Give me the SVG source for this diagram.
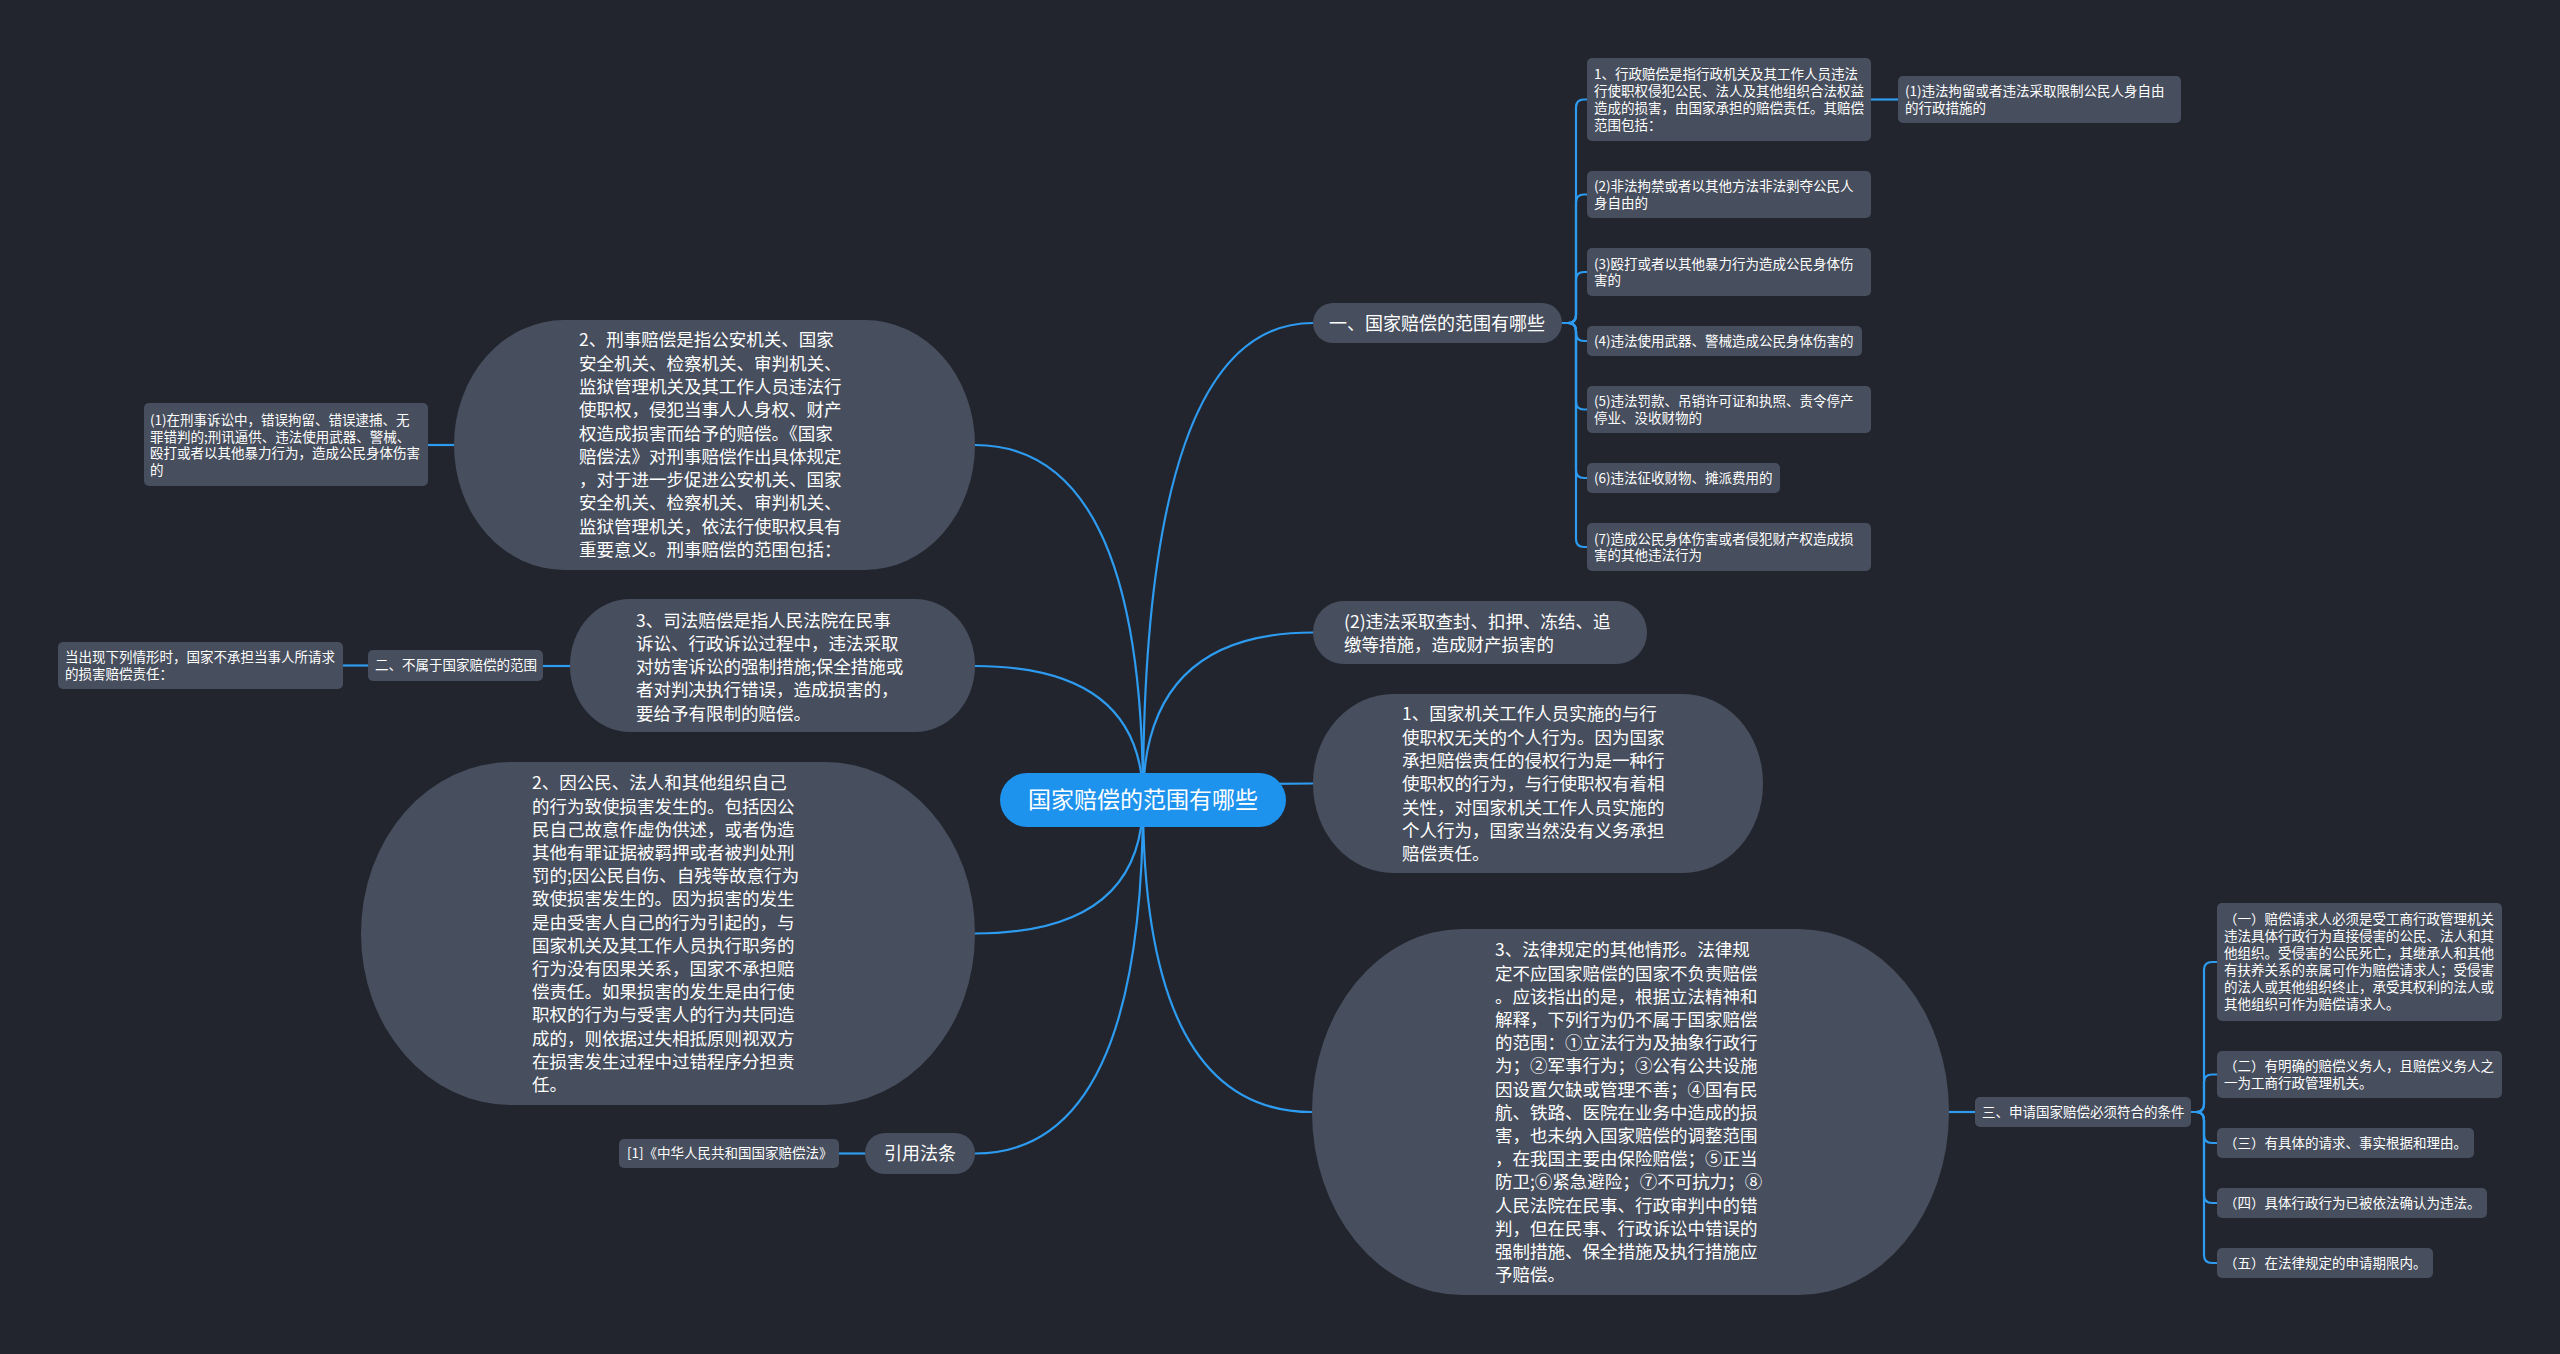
<svg xmlns="http://www.w3.org/2000/svg" width="2560" height="1354" viewBox="0 0 2560 1354">
<style>
.bg{fill:#22252d}
.n{fill:#474e5d}
.c{fill:#1e93ee}
.t{font-family:"Noto Sans CJK SC","Noto Sans",sans-serif;fill:#ffffff}
.s{font-size:13.5px}
.m{font-size:17.5px}
.l{font-size:18px}
.x{font-size:23px}
.e{fill:none;stroke:#2d9bf0;stroke-width:2.2}
</style>
<rect class="bg" x="0" y="0" width="2560" height="1354"/>
<g id="connectors">
<path class="e" d="M1143 800 Q1143 323 1313 323"/>
<path class="e" d="M1143 800 Q1143 632.5 1313 632.5"/>
<path class="e" d="M1143 800 Q1143 783.5 1313 783.5"/>
<path class="e" d="M1143 800 Q1143 1112 1312 1112"/>
<path class="e" d="M1143 800 Q1143 445 975 445"/>
<path class="e" d="M1143 800 Q1143 666 975 666"/>
<path class="e" d="M1143 800 Q1143 933.5 975 933.5"/>
<path class="e" d="M1143 800 Q1143 1153.5 975 1153.5"/>
<path class="e" d="M1562 323 H1568 Q1576 323 1576 315 V107.5 Q1576 99.5 1584 99.5 H1587"/>
<path class="e" d="M1562 323 H1568 Q1576 323 1576 315 V202.5 Q1576 194.5 1584 194.5 H1587"/>
<path class="e" d="M1562 323 H1568 Q1576 323 1576 315 V280 Q1576 272 1584 272 H1587"/>
<path class="e" d="M1562 323 H1568 Q1576 323 1576 331 V333 Q1576 341 1584 341 H1587"/>
<path class="e" d="M1562 323 H1568 Q1576 323 1576 331 V401.5 Q1576 409.5 1584 409.5 H1587"/>
<path class="e" d="M1562 323 H1568 Q1576 323 1576 331 V470 Q1576 478 1584 478 H1587"/>
<path class="e" d="M1562 323 H1568 Q1576 323 1576 331 V539 Q1576 547 1584 547 H1587"/>
<path class="e" d="M1871 99.5 H1898"/>
<path class="e" d="M454 445 H428"/>
<path class="e" d="M570 666 H543"/>
<path class="e" d="M368 665.5 H343"/>
<path class="e" d="M865 1153.5 H839"/>
<path class="e" d="M1949 1112 H1975"/>
<path class="e" d="M2191 1112 H2196 Q2204 1112 2204 1104 V970 Q2204 962 2212 962 H2217"/>
<path class="e" d="M2191 1112 H2196 Q2204 1112 2204 1104 V1082.5 Q2204 1074.5 2212 1074.5 H2217"/>
<path class="e" d="M2191 1112 H2196 Q2204 1112 2204 1120 V1135 Q2204 1143 2212 1143 H2217"/>
<path class="e" d="M2191 1112 H2196 Q2204 1112 2204 1120 V1195 Q2204 1203 2212 1203 H2217"/>
<path class="e" d="M2191 1112 H2196 Q2204 1112 2204 1120 V1255 Q2204 1263 2212 1263 H2217"/>
</g>
<g id="central">
<rect class="c" x="1000" y="773" width="286" height="54" rx="27"/>
<text class="t x" x="1143" y="808.3" text-anchor="middle">国家赔偿的范围有哪些</text>
</g>
<g id="n1">
<rect class="n" x="1313" y="303" width="249" height="40" rx="20"/>
<text class="t l" x="1437" y="329.5" text-anchor="middle">一、国家赔偿的范围有哪些</text>
</g>
<g id="n1a">
<rect class="n" x="1587" y="58" width="284" height="83" rx="5"/>
<text class="t s" x="1594" y="79.4"><tspan x="1594">1、行政赔偿是指行政机关及其工作人员违法</tspan><tspan x="1594" dy="16.7">行使职权侵犯公民、法人及其他组织合法权益</tspan><tspan x="1594" dy="16.7">造成的损害，由国家承担的赔偿责任。其赔偿</tspan><tspan x="1594" dy="16.7">范围包括：</tspan></text>
</g>
<g id="n1a1">
<rect class="n" x="1898" y="76" width="283" height="47" rx="5"/>
<text class="t s" x="1905" y="96.1"><tspan x="1905">(1)违法拘留或者违法采取限制公民人身自由</tspan><tspan x="1905" dy="16.7">的行政措施的</tspan></text>
</g>
<g id="n1b">
<rect class="n" x="1587" y="171" width="284" height="47" rx="5"/>
<text class="t s" x="1594" y="191.1"><tspan x="1594">(2)非法拘禁或者以其他方法非法剥夺公民人</tspan><tspan x="1594" dy="16.7">身自由的</tspan></text>
</g>
<g id="n1c">
<rect class="n" x="1587" y="248" width="284" height="48" rx="5"/>
<text class="t s" x="1594" y="268.6"><tspan x="1594">(3)殴打或者以其他暴力行为造成公民身体伤</tspan><tspan x="1594" dy="16.7">害的</tspan></text>
</g>
<g id="n1d">
<rect class="n" x="1587" y="326" width="275" height="30" rx="5"/>
<text class="t s" x="1594" y="345.9">(4)违法使用武器、警械造成公民身体伤害的</text>
</g>
<g id="n1e">
<rect class="n" x="1587" y="386" width="284" height="47" rx="5"/>
<text class="t s" x="1594" y="406.1"><tspan x="1594">(5)违法罚款、吊销许可证和执照、责令停产</tspan><tspan x="1594" dy="16.7">停业、没收财物的</tspan></text>
</g>
<g id="n1f">
<rect class="n" x="1587" y="463" width="193" height="30" rx="5"/>
<text class="t s" x="1594" y="482.9">(6)违法征收财物、摊派费用的</text>
</g>
<g id="n1g">
<rect class="n" x="1587" y="523" width="284" height="48" rx="5"/>
<text class="t s" x="1594" y="543.6"><tspan x="1594">(7)造成公民身体伤害或者侵犯财产权造成损</tspan><tspan x="1594" dy="16.7">害的其他违法行为</tspan></text>
</g>
<g id="n2">
<rect class="n" x="1313" y="601" width="334" height="63" rx="31"/>
<text class="t m" x="1344" y="627.8"><tspan x="1344">(2)违法采取查封、扣押、冻结、追</tspan><tspan x="1344" dy="23.3">缴等措施，造成财产损害的</tspan></text>
</g>
<g id="n3">
<rect class="n" x="1313" y="694" width="450" height="179" rx="80" ry="89"/>
<text class="t m" x="1402" y="720.3"><tspan x="1402">1、国家机关工作人员实施的与行</tspan><tspan x="1402" dy="23.3">使职权无关的个人行为。因为国家</tspan><tspan x="1402" dy="23.3">承担赔偿责任的侵权行为是一种行</tspan><tspan x="1402" dy="23.3">使职权的行为，与行使职权有着相</tspan><tspan x="1402" dy="23.3">关性，对国家机关工作人员实施的</tspan><tspan x="1402" dy="23.3">个人行为，国家当然没有义务承担</tspan><tspan x="1402" dy="23.3">赔偿责任。</tspan></text>
</g>
<g id="n4">
<rect class="n" x="1312" y="929" width="637" height="366" rx="150" ry="183"/>
<text class="t m" x="1495" y="956.3"><tspan x="1495">3、法律规定的其他情形。法律规</tspan><tspan x="1495" dy="23.2">定不应国家赔偿的国家不负责赔偿</tspan><tspan x="1495" dy="23.2">。应该指出的是，根据立法精神和</tspan><tspan x="1495" dy="23.2">解释，下列行为仍不属于国家赔偿</tspan><tspan x="1495" dy="23.2">的范围：①立法行为及抽象行政行</tspan><tspan x="1495" dy="23.2">为；②军事行为；③公有公共设施</tspan><tspan x="1495" dy="23.2">因设置欠缺或管理不善；④国有民</tspan><tspan x="1495" dy="23.2">航、铁路、医院在业务中造成的损</tspan><tspan x="1495" dy="23.2">害，也未纳入国家赔偿的调整范围</tspan><tspan x="1495" dy="23.2">，在我国主要由保险赔偿；⑤正当</tspan><tspan x="1495" dy="23.2">防卫;⑥紧急避险；⑦不可抗力；⑧</tspan><tspan x="1495" dy="23.2">人民法院在民事、行政审判中的错</tspan><tspan x="1495" dy="23.2">判，但在民事、行政诉讼中错误的</tspan><tspan x="1495" dy="23.2">强制措施、保全措施及执行措施应</tspan><tspan x="1495" dy="23.2">予赔偿。</tspan></text>
</g>
<g id="n4a">
<rect class="n" x="1975" y="1097" width="216" height="30" rx="5"/>
<text class="t s" x="1982" y="1116.9">三、申请国家赔偿必须符合的条件</text>
</g>
<g id="n4a1">
<rect class="n" x="2217" y="903" width="285" height="118" rx="5"/>
<text class="t s" x="2224" y="924.4"><tspan x="2224">（一）赔偿请求人必须是受工商行政管理机关</tspan><tspan x="2224" dy="17">违法具体行政行为直接侵害的公民、法人和其</tspan><tspan x="2224" dy="17">他组织。受侵害的公民死亡，其继承人和其他</tspan><tspan x="2224" dy="17">有扶养关系的亲属可作为赔偿请求人；受侵害</tspan><tspan x="2224" dy="17">的法人或其他组织终止，承受其权利的法人或</tspan><tspan x="2224" dy="17">其他组织可作为赔偿请求人。</tspan></text>
</g>
<g id="n4a2">
<rect class="n" x="2217" y="1051" width="285" height="47" rx="5"/>
<text class="t s" x="2224" y="1070.9"><tspan x="2224">（二）有明确的赔偿义务人，且赔偿义务人之</tspan><tspan x="2224" dy="17">一为工商行政管理机关。</tspan></text>
</g>
<g id="n4a3">
<rect class="n" x="2217" y="1128" width="257" height="30" rx="5"/>
<text class="t s" x="2224" y="1147.9">（三）有具体的请求、事实根据和理由。</text>
</g>
<g id="n4a4">
<rect class="n" x="2217" y="1188" width="270" height="30" rx="5"/>
<text class="t s" x="2224" y="1207.9">（四）具体行政行为已被依法确认为违法。</text>
</g>
<g id="n4a5">
<rect class="n" x="2217" y="1248" width="216" height="30" rx="5"/>
<text class="t s" x="2224" y="1267.9">（五）在法律规定的申请期限内。</text>
</g>
<g id="n5">
<rect class="n" x="454" y="320" width="521" height="250" rx="110" ry="125"/>
<text class="t m" x="579" y="346.3"><tspan x="579">2、刑事赔偿是指公安机关、国家</tspan><tspan x="579" dy="23.3">安全机关、检察机关、审判机关、</tspan><tspan x="579" dy="23.3">监狱管理机关及其工作人员违法行</tspan><tspan x="579" dy="23.3">使职权，侵犯当事人人身权、财产</tspan><tspan x="579" dy="23.3">权造成损害而给予的赔偿。《国家</tspan><tspan x="579" dy="23.3">赔偿法》对刑事赔偿作出具体规定</tspan><tspan x="579" dy="23.3">，对于进一步促进公安机关、国家</tspan><tspan x="579" dy="23.3">安全机关、检察机关、审判机关、</tspan><tspan x="579" dy="23.3">监狱管理机关，依法行使职权具有</tspan><tspan x="579" dy="23.3">重要意义。刑事赔偿的范围包括：</tspan></text>
</g>
<g id="n5a">
<rect class="n" x="144" y="403" width="284" height="83" rx="5"/>
<text class="t s" x="150" y="424.9"><tspan x="150">(1)在刑事诉讼中，错误拘留、错误逮捕、无</tspan><tspan x="150" dy="16.7">罪错判的;刑讯逼供、违法使用武器、警械、</tspan><tspan x="150" dy="16.7">殴打或者以其他暴力行为，造成公民身体伤害</tspan><tspan x="150" dy="16.7">的</tspan></text>
</g>
<g id="n6">
<rect class="n" x="570" y="599" width="405" height="133" rx="60" ry="66"/>
<text class="t m" x="636" y="626.5"><tspan x="636">3、司法赔偿是指人民法院在民事</tspan><tspan x="636" dy="23.3">诉讼、行政诉讼过程中，违法采取</tspan><tspan x="636" dy="23.3">对妨害诉讼的强制措施;保全措施或</tspan><tspan x="636" dy="23.3">者对判决执行错误，造成损害的，</tspan><tspan x="636" dy="23.3">要给予有限制的赔偿。</tspan></text>
</g>
<g id="n6a">
<rect class="n" x="368" y="650" width="175" height="31" rx="5"/>
<text class="t s" x="375" y="670.4">二、不属于国家赔偿的范围</text>
</g>
<g id="n6a1">
<rect class="n" x="58" y="642" width="285" height="47" rx="5"/>
<text class="t s" x="65" y="662.4"><tspan x="65">当出现下列情形时，国家不承担当事人所请求</tspan><tspan x="65" dy="17">的损害赔偿责任：</tspan></text>
</g>
<g id="n7">
<rect class="n" x="361" y="762" width="614" height="343" rx="150" ry="171"/>
<text class="t m" x="532" y="789.3"><tspan x="532">2、因公民、法人和其他组织自己</tspan><tspan x="532" dy="23.2">的行为致使损害发生的。包括因公</tspan><tspan x="532" dy="23.2">民自己故意作虚伪供述，或者伪造</tspan><tspan x="532" dy="23.2">其他有罪证据被羁押或者被判处刑</tspan><tspan x="532" dy="23.2">罚的;因公民自伤、自残等故意行为</tspan><tspan x="532" dy="23.2">致使损害发生的。因为损害的发生</tspan><tspan x="532" dy="23.2">是由受害人自己的行为引起的，与</tspan><tspan x="532" dy="23.2">国家机关及其工作人员执行职务的</tspan><tspan x="532" dy="23.2">行为没有因果关系，国家不承担赔</tspan><tspan x="532" dy="23.2">偿责任。如果损害的发生是由行使</tspan><tspan x="532" dy="23.2">职权的行为与受害人的行为共同造</tspan><tspan x="532" dy="23.2">成的，则依据过失相抵原则视双方</tspan><tspan x="532" dy="23.2">在损害发生过程中过错程序分担责</tspan><tspan x="532" dy="23.2">任。</tspan></text>
</g>
<g id="n8">
<rect class="n" x="865" y="1133" width="110" height="41" rx="20"/>
<text class="t l" x="920" y="1160" text-anchor="middle">引用法条</text>
</g>
<g id="n8a">
<rect class="n" x="619" y="1139" width="220" height="29" rx="5"/>
<text class="t s" x="627" y="1158.4">[1]《中华人民共和国国家赔偿法》</text>
</g>
</svg>
